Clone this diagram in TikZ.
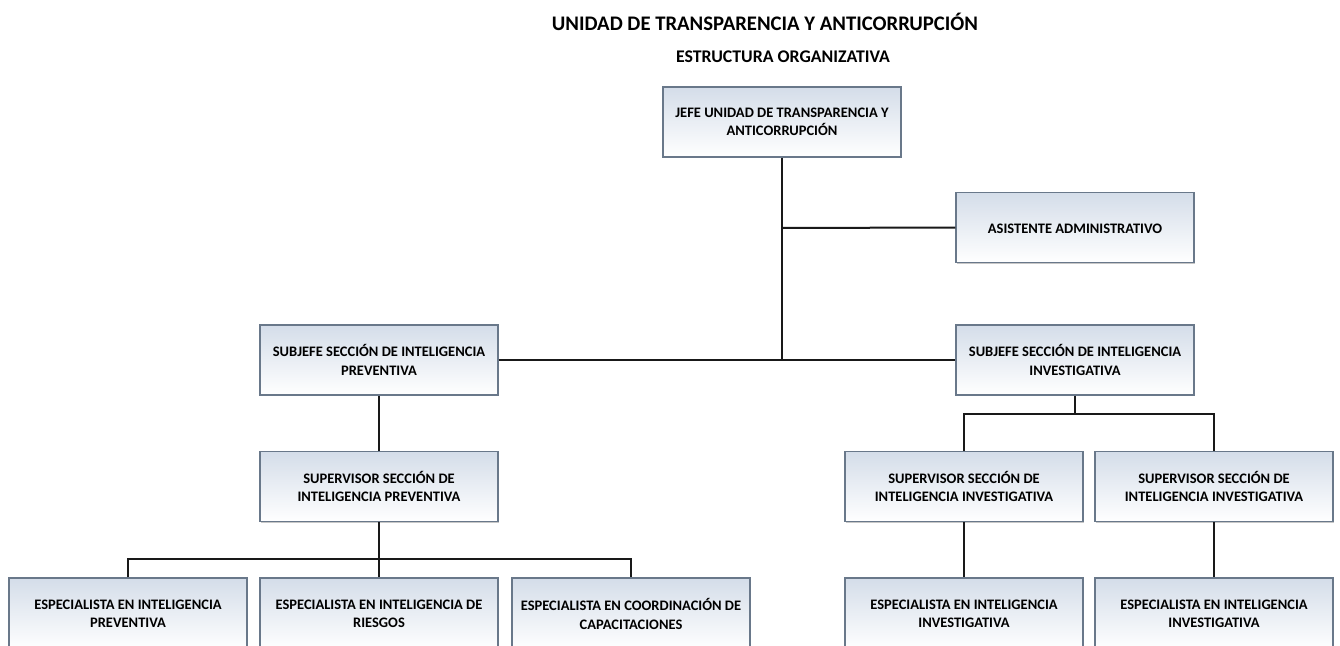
\documentclass[tikz,border=0pt]{standalone}
\usepackage{fontspec}
\setmainfont{Carlito}
\usetikzlibrary{shadows}
\definecolor{boxline}{RGB}{105,120,138}
\definecolor{boxtop}{RGB}{212,221,233}
\definecolor{connc}{RGB}{25,25,25}
\tikzset{
  orgbox/.style={draw=boxline, line width=1.1pt, top color=boxtop, bottom color=white,
    minimum width=238pt, minimum height=70pt, inner sep=2pt, align=center,
    font=\bfseries\fontsize{14.5}{18.5}\selectfont,
    execute at begin node={\vphantom{Ó}},
    drop shadow={shadow xshift=1.2pt, shadow yshift=-1.2pt, fill=black, opacity=0.22}},
  espbox/.style={orgbox, minimum height=72pt},
  conn/.style={draw=connc, line width=2pt},
  titletext/.style={font=\bfseries\fontsize{20.7}{24}\selectfont, inner sep=0pt},
  subtitletext/.style={font=\bfseries\fontsize{17.8}{21}\selectfont, inner sep=0pt}
}
\begin{document}
\begin{tikzpicture}[x=1pt,y=-1pt]
\useasboundingbox[fill=white] (0,0) rectangle (1340,645);
\node[titletext] (title) at (765,22) {UNIDAD DE TRANSPARENCIA Y ANTICORRUPCIÓN};
\node[subtitletext] (subtitle) at (783,57) {ESTRUCTURA ORGANIZATIVA};

\node[orgbox] (jefe) at (782,122) {JEFE UNIDAD DE TRANSPARENCIA Y\\ANTICORRUPCIÓN};
\node[orgbox] (asis) at (1075,227.5) {ASISTENTE ADMINISTRATIVO};
\node[orgbox] (subP) at (379,360) {SUBJEFE SECCIÓN DE INTELIGENCIA\\PREVENTIVA};
\node[orgbox] (subI) at (1075,360) {SUBJEFE SECCIÓN DE INTELIGENCIA\\INVESTIGATIVA};
\node[orgbox] (supP) at (379,486.5) {SUPERVISOR SECCIÓN DE\\INTELIGENCIA PREVENTIVA};
\node[orgbox] (supI1) at (964,486.5) {SUPERVISOR SECCIÓN DE\\INTELIGENCIA INVESTIGATIVA};
\node[orgbox] (supI2) at (1214,486.5) {SUPERVISOR SECCIÓN DE\\INTELIGENCIA INVESTIGATIVA};
\node[espbox] (esp1) at (128,614) {ESPECIALISTA EN INTELIGENCIA\\PREVENTIVA};
\node[espbox] (esp2) at (379,614) {ESPECIALISTA EN INTELIGENCIA DE\\RIESGOS};
\node[espbox] (esp3) at (631,614) {ESPECIALISTA EN COORDINACIÓN DE\\CAPACITACIONES};
\node[espbox] (esp4) at (964,614) {ESPECIALISTA EN INTELIGENCIA\\INVESTIGATIVA};
\node[espbox] (esp5) at (1214,614) {ESPECIALISTA EN INTELIGENCIA\\INVESTIGATIVA};

\coordinate (jA) at (782,228);
\coordinate (jB) at (782,360);
\coordinate (bI) at (1075,414);
\coordinate (bP) at (379,559);

\draw[conn] (jefe.south) -- (jB);
\draw[conn] (jA) -- (asis.west);
\draw[conn] (subP.east) -- (subI.west);
\draw[conn] (subP.south) -- (supP.north);
\draw[conn] (subI.south) -- (bI);
\draw[conn] (supI1.north) -- (supI1.north |- bI) -- (supI2.north |- bI) -- (supI2.north);
\draw[conn] (supI1.south) -- (esp4.north);
\draw[conn] (supI2.south) -- (esp5.north);
\draw[conn] (supP.south) -- (esp2.north);
\draw[conn] (esp1.north) -- (esp1.north |- bP) -- (esp3.north |- bP) -- (esp3.north);
\end{tikzpicture}
\end{document}
